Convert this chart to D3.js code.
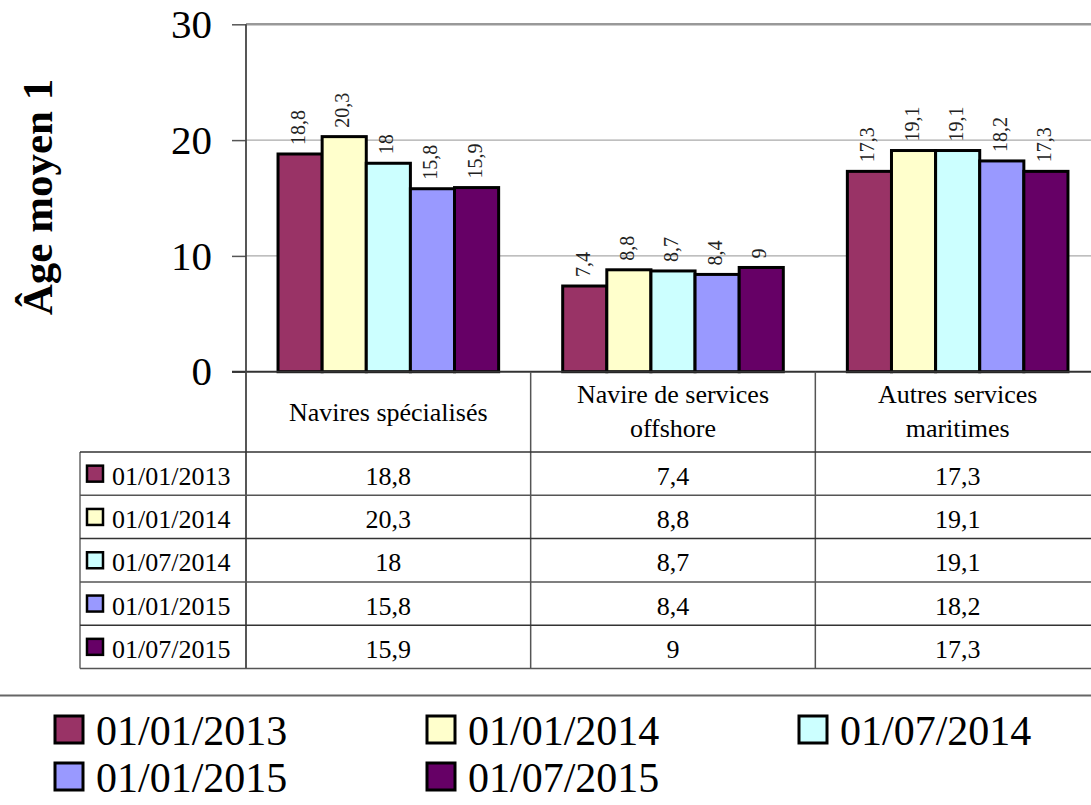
<!DOCTYPE html>
<html>
<head>
<meta charset="utf-8">
<script src="https://cdnjs.cloudflare.com/ajax/libs/d3/7.8.5/d3.min.js"></script>
<style>
body { margin: 0; background: #fff; }
svg { display: block; }
svg text { font-family: "Liberation Serif", "Times New Roman", serif; }
</style>
</head>
<body>
<script>
// data
var categories = ["Navires spécialisés", "Navire de services offshore", "Autres services maritimes"];
var categoryLines = [["Navires spécialisés"], ["Navire de services", "offshore"], ["Autres services", "maritimes"]];
var series = ["01/01/2013", "01/01/2014", "01/07/2014", "01/01/2015", "01/07/2015"];
var v2013a = [18.8, 7.4, 17.3];
var v2014a = [20.3, 8.8, 19.1];
var v2014b = [18, 8.7, 19.1];
var v2015a = [15.8, 8.4, 18.2];
var v2015b = [15.9, 9, 17.3];
var yTicks = [0, 10, 20, 30];
var colors = ["#993366", "#FFFFCC", "#CCFFFF", "#9999FF", "#660066"];

var values = [v2013a, v2014a, v2014b, v2015a, v2015b];

var serif = "'Liberation Serif', 'Times New Roman', serif";
var width = 1091, height = 805;
var plotLeft = 246, plotRight = 1100, plotTop = 24.3, plotBottom = 371.7;
var headerBottom = 452, rowH = 43.3, tableLeft = 80;

var fmt = function (v) { return String(v).replace(".", ","); };

var svg = d3.select("body").append("svg")
    .attr("width", width)
    .attr("height", height)
    .style("font-family", serif);

var x0 = d3.scaleBand()
    .domain(categories)
    .range([plotLeft, plotRight])
    .paddingInner(0.225)
    .paddingOuter(0.1125);

var x1 = d3.scaleBand()
    .domain(series)
    .range([0, x0.bandwidth()]);

var y = d3.scaleLinear()
    .domain([0, 30])
    .range([plotBottom, plotTop]);

var color = d3.scaleOrdinal().domain(series).range(colors);

// gridlines
svg.append("g").selectAll("line")
    .data(yTicks.filter(function (d) { return d > 0; }))
    .enter().append("line")
    .attr("x1", plotLeft).attr("x2", width)
    .attr("y1", function (d) { return y(d); })
    .attr("y2", function (d) { return y(d); })
    .style("stroke", function (d) { return d == 30 ? "#999" : "#aaa"; })
    .style("stroke-width", function (d) { return d == 30 ? 2.5 : 1.2; });

// y axis
var yAxis = d3.axisLeft(y)
    .tickValues(yTicks)
    .tickSize(14)
    .tickPadding(20);

var yg = svg.append("g")
    .attr("transform", "translate(" + plotLeft + ",0)")
    .call(yAxis);
yg.select(".domain").remove();
yg.selectAll(".tick line").style("stroke", "#555").style("stroke-width", 1.5);
yg.selectAll(".tick text")
    .style("font-family", serif)
    .style("font-size", "41px")
    .style("fill", "#000");

svg.append("text")
    .attr("transform", "translate(52,197) rotate(-90)")
    .style("text-anchor", "middle")
    .style("font-family", serif)
    .style("font-size", "43px")
    .style("font-weight", "bold")
    .text("Âge moyen 1");

// bars
var groups = svg.append("g").selectAll("g")
    .data(categories)
    .enter().append("g")
    .attr("transform", function (c) { return "translate(" + x0(c) + ",0)"; });

groups.selectAll("rect")
    .data(function (c, i) { return series.map(function (s, j) { return { s: s, v: values[j][i] }; }); })
    .enter().append("rect")
    .attr("x", function (d) { return x1(d.s); })
    .attr("y", function (d) { return y(d.v); })
    .attr("width", x1.bandwidth())
    .attr("height", function (d) { return y(0) - y(d.v); })
    .style("fill", function (d) { return color(d.s); })
    .style("stroke", "#000")
    .style("stroke-width", 3);

groups.selectAll("text.lbl")
    .data(function (c, i) { return series.map(function (s, j) { return { s: s, v: values[j][i] }; }); })
    .enter().append("text")
    .attr("class", "lbl")
    .attr("transform", function (d) {
        return "translate(" + (x1(d.s) + x1.bandwidth() / 2 - 2) + "," + (y(d.v) - 9) + ") rotate(-90)";
    })
    .attr("dy", "0.35em")
    .style("font-family", serif)
    .style("font-size", "20px")
    .style("fill", "#222")
    .text(function (d) { return fmt(d.v); });

// table
var tableBottom = headerBottom + rowH * series.length;
var bounds = categories.map(function (c) { return x0(c) - (x0.step() - x0.bandwidth()) / 2; });

var tbl = svg.append("g");

// zero line
tbl.append("line")
    .attr("x1", plotLeft - 14).attr("x2", width)
    .attr("y1", y(0)).attr("y2", y(0))
    .style("stroke", "#333").style("stroke-width", 2);

// axis line / column lines
tbl.append("line")
    .attr("x1", plotLeft).attr("x2", plotLeft)
    .attr("y1", plotTop).attr("y2", tableBottom)
    .style("stroke", "#444").style("stroke-width", 1.8);

tbl.selectAll("line.col")
    .data(bounds.slice(1))
    .enter().append("line")
    .attr("class", "col")
    .attr("x1", function (d) { return d; }).attr("x2", function (d) { return d; })
    .attr("y1", y(0)).attr("y2", tableBottom)
    .style("stroke", "#555").style("stroke-width", 1.5);

tbl.append("line")
    .attr("x1", tableLeft).attr("x2", tableLeft)
    .attr("y1", headerBottom).attr("y2", tableBottom)
    .style("stroke", "#666").style("stroke-width", 1.5);

tbl.selectAll("line.row")
    .data(d3.range(series.length + 1))
    .enter().append("line")
    .attr("class", "row")
    .attr("x1", tableLeft).attr("x2", width)
    .attr("y1", function (i) { return headerBottom + i * rowH; })
    .attr("y2", function (i) { return headerBottom + i * rowH; })
    .style("stroke", function (i) { return i % 2 ? "#555" : "#333"; })
    .style("stroke-width", 1.5);

// header text
tbl.selectAll("text.hdr")
    .data(categories)
    .enter().append("text")
    .attr("class", "hdr")
    .attr("x", function (c) { return x0(c) + x0.bandwidth() / 2; })
    .attr("y", function (c, i) { return categoryLines[i].length == 1 ? 421 : 403; })
    .style("text-anchor", "middle")
    .style("font-family", serif)
    .style("font-size", "26px")
    .each(function (c, i) {
        var t = d3.select(this);
        var cx = x0(c) + x0.bandwidth() / 2;
        categoryLines[i].forEach(function (l, k) {
            t.append("tspan").attr("x", cx).attr("dy", k == 0 ? 0 : 34).text(l);
        });
    });

// rows
var rows = tbl.selectAll("g.trow")
    .data(series)
    .enter().append("g")
    .attr("class", "trow")
    .attr("transform", function (s, j) { return "translate(0," + (headerBottom + j * rowH) + ")"; });

rows.append("rect")
    .attr("x", 87).attr("y", rowH / 2 - 8)
    .attr("width", 16).attr("height", 16)
    .style("fill", function (s) { return color(s); })
    .style("stroke", "#000").style("stroke-width", 2.5);

rows.append("text")
    .attr("x", 112).attr("y", rowH / 2 + 11)
    .style("font-family", serif)
    .style("font-size", "26px")
    .text(function (s) { return s; });

rows.selectAll("text.val")
    .data(function (s, j) { return categories.map(function (c, i) { return { c: c, v: values[j][i] }; }); })
    .enter().append("text")
    .attr("class", "val")
    .attr("x", function (d) { return x0(d.c) + x0.bandwidth() / 2; })
    .attr("y", rowH / 2 + 11)
    .style("text-anchor", "middle")
    .style("font-family", serif)
    .style("font-size", "26px")
    .text(function (d) { return fmt(d.v); });

// separator
svg.append("line")
    .attr("x1", 0).attr("x2", width)
    .attr("y1", 695.5).attr("y2", 695.5)
    .style("stroke", "#666").style("stroke-width", 2);

// legend
var legend = svg.append("g").selectAll("g")
    .data(series)
    .enter().append("g")
    .attr("transform", function (s, j) {
        return "translate(" + (55 + (j % 3) * 372) + "," + (716 + Math.floor(j / 3) * 47) + ")";
    });

legend.append("rect")
    .attr("width", 28).attr("height", 27)
    .style("fill", function (s) { return color(s); })
    .style("stroke", "#000").style("stroke-width", 3);

legend.append("text")
    .attr("x", 41).attr("y", 29)
    .style("font-family", serif)
    .style("font-size", "42px")
    .text(function (s) { return s; });
</script>
</body>
</html>
